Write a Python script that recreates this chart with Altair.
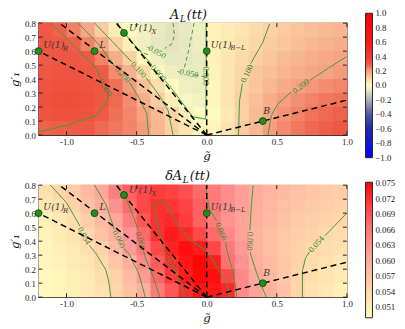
import altair as alt
import pandas as pd

# ---------------- data ----------------
X_EDGES = [-1.2, -1.1, -1.0, -0.9, -0.8, -0.7, -0.6, -0.5, -0.4, -0.3, -0.2, -0.1,
           0.0, 0.1, 0.2, 0.3, 0.4, 0.5, 0.6, 0.7, 0.8, 0.9, 1.0]
Y_EDGES = [0.0, 0.1, 0.2, 0.3, 0.4, 0.5, 0.6, 0.7, 0.8]

# A_L(tt): one row per g'_1 band (bottom to top), one value per g~ band (left to right)
A_ROWS = [
    [0.29, 0.295, 0.30, 0.30, 0.28, 0.26, 0.24, 0.21, 0.16, 0.105, 0.06, 0.02,
     0.02, 0.065, 0.11, 0.155, 0.205, 0.235, 0.26, 0.28, 0.295, 0.31],
    [0.32, 0.33, 0.33, 0.32, 0.30, 0.27, 0.24, 0.20, 0.15, 0.095, 0.04, -0.01,
     0.01, 0.05, 0.10, 0.145, 0.19, 0.22, 0.245, 0.265, 0.28, 0.29],
    [0.33, 0.34, 0.34, 0.33, 0.31, 0.28, 0.23, 0.175, 0.11, 0.04, -0.02, -0.03,
     0.02, 0.06, 0.105, 0.14, 0.175, 0.205, 0.225, 0.245, 0.26, 0.27],
    [0.32, 0.33, 0.33, 0.32, 0.31, 0.27, 0.21, 0.14, 0.075, -0.005, -0.04, -0.045,
     0.02, 0.06, 0.095, 0.125, 0.155, 0.18, 0.198, 0.215, 0.23, 0.24],
    [0.31, 0.32, 0.32, 0.31, 0.298, 0.23, 0.165, 0.085, 0.015, -0.04, -0.05, -0.05,
     0.025, 0.055, 0.09, 0.12, 0.14, 0.16, 0.175, 0.19, 0.20, 0.21],
    [0.30, 0.31, 0.31, 0.30, 0.245, 0.18, 0.105, 0.025, -0.04, -0.06, -0.06, -0.05,
     0.03, 0.055, 0.08, 0.105, 0.125, 0.145, 0.16, 0.175, 0.185, 0.195],
    [0.31, 0.30, 0.295, 0.245, 0.19, 0.105, 0.035, -0.04, -0.06, -0.07, -0.06, -0.045,
     0.03, 0.05, 0.07, 0.09, 0.11, 0.125, 0.14, 0.155, 0.165, 0.175],
    [0.305, 0.29, 0.25, 0.19, 0.115, 0.04, -0.01, -0.035, -0.052, -0.07, -0.055, -0.04,
     0.03, 0.045, 0.06, 0.08, 0.10, 0.115, 0.13, 0.14, 0.15, 0.16],
]

# delta A_L(tt)
DA_ROWS = [
    [0.0495, 0.050, 0.051, 0.052, 0.053, 0.0545, 0.057, 0.0595, 0.0655, 0.069, 0.0722, 0.074,
     0.074, 0.0725, 0.064, 0.061, 0.0593, 0.057, 0.0545, 0.053, 0.052, 0.051],
    [0.0495, 0.050, 0.051, 0.052, 0.0535, 0.055, 0.058, 0.062, 0.0675, 0.0712, 0.0735, 0.075,
     0.0745, 0.070, 0.064, 0.0603, 0.0585, 0.0563, 0.0545, 0.0533, 0.0525, 0.0518],
    [0.050, 0.0505, 0.0515, 0.0525, 0.054, 0.0565, 0.0595, 0.064, 0.0685, 0.072, 0.074, 0.0755,
     0.0735, 0.0665, 0.063, 0.0595, 0.058, 0.0565, 0.0548, 0.0537, 0.053, 0.0523],
    [0.050, 0.051, 0.052, 0.0535, 0.055, 0.058, 0.062, 0.066, 0.070, 0.073, 0.0745, 0.0735,
     0.070, 0.0655, 0.062, 0.059, 0.0575, 0.0562, 0.055, 0.054, 0.0535, 0.053],
    [0.0505, 0.0515, 0.0527, 0.0545, 0.057, 0.0595, 0.063, 0.067, 0.072, 0.0735, 0.0725, 0.070,
     0.067, 0.064, 0.061, 0.059, 0.0578, 0.0565, 0.0555, 0.0548, 0.054, 0.0535],
    [0.051, 0.052, 0.0535, 0.0555, 0.058, 0.0605, 0.065, 0.069, 0.072, 0.0725, 0.071, 0.068,
     0.0655, 0.063, 0.061, 0.0595, 0.058, 0.057, 0.056, 0.0553, 0.0548, 0.0543],
    [0.052, 0.053, 0.055, 0.057, 0.0595, 0.063, 0.067, 0.070, 0.072, 0.0715, 0.0705, 0.068,
     0.0655, 0.0635, 0.0615, 0.0598, 0.0585, 0.0575, 0.0567, 0.056, 0.0555, 0.055],
    [0.053, 0.0545, 0.056, 0.058, 0.0605, 0.065, 0.068, 0.070, 0.071, 0.0705, 0.0695, 0.067,
     0.0655, 0.0635, 0.0615, 0.0598, 0.0588, 0.058, 0.0572, 0.0565, 0.056, 0.0555],
]

X_TICKS = [-1.0, -0.5, 0.0, 0.5, 1.0]
Y_TICKS = [0.0, 0.1, 0.2, 0.3, 0.4, 0.5, 0.6, 0.7, 0.8]
TOP_BAR_TICKS = [-1.0, -0.8, -0.6, -0.4, -0.2, 0.0, 0.2, 0.4, 0.6, 0.8, 1.0]
BOT_BAR_TICKS = [0.051, 0.054, 0.057, 0.060, 0.063, 0.066, 0.069, 0.072, 0.075]

# symmetry points
POINT_KEY = ["R", "L", "X", "BL", "B"]
POINT_X = [-1.2, -0.8, -0.59, 0.0, 0.4]
POINT_Y = [0.6, 0.6, 0.73, 0.6, 0.1]
POINT_MAIN = ["U(1)", "L", "U\u2032(1)", "U(1)", "B"]
POINT_SUB = ["R", "", "X", "B\u2212L", ""]

# dashed rays from the origin through each point to the frame
RAY_END_X = [-1.2, -1.05, -0.645, 0.0, 1.0]
RAY_END_Y = [0.6, 0.8, 0.8, 0.8, 0.25]

# contour pieces: (piece id, dashed, x list, y list)
TOP_CONTOURS = [
    ("t30a", False, [-1.198, -0.999, -0.789, -0.707, -0.70], [0.023, 0.070, 0.140, 0.246, 0.28]),
    ("t30b", False, [-0.752, -0.789, -0.883, -0.999, -1.116], [0.40, 0.479, 0.573, 0.690, 0.802]),
    ("t20a", False, [-0.918, -0.766, -0.654], [0.802, 0.643, 0.49]),
    ("t20b", False, [-0.55, -0.485, -0.427, -0.415], [0.376, 0.269, 0.152, 0.0]),
    ("t10a", False, [-0.801, -0.672, -0.537], [0.802, 0.667, 0.525]),
    ("t10b", False, [-0.433, -0.345, -0.275, -0.240], [0.411, 0.293, 0.175, 0.0]),
    ("t00a", False, [-0.637, -0.590, -0.39], [0.802, 0.732, 0.50]),
    ("t00b", False, [-0.296, -0.252, -0.100, -0.007, -0.004], [0.388, 0.335, 0.131, 0.114, 0.36]),
    ("t00c", False, [-0.004, -0.004], [0.49, 0.80]),
    ("t10r", False, [0.449, 0.402, 0.315], [0.795, 0.667, 0.511]),
    ("t10s", False, [0.255, 0.234, 0.227], [0.369, 0.246, 0.0]),
    ("t20r", False, [0.998, 0.869, 0.736], [0.561, 0.479, 0.391]),
    ("t20s", False, [0.604, 0.507, 0.461, 0.437], [0.309, 0.222, 0.140, 0.0]),
    ("m1a", True, [-0.24, -0.23, -0.25, -0.30], [0.80, 0.71, 0.65, 0.62]),
    ("m1b", True, [-0.42, -0.46, -0.50], [0.575, 0.59, 0.63]),
    ("m2a", True, [-0.09, -0.11, -0.13, -0.15, -0.16], [0.80, 0.70, 0.60, 0.52, 0.48]),
    ("m2b", True, [-0.085, -0.04, 0.0], [0.43, 0.42, 0.415]),
]
TOP_CLABELS = [
    ("0.300", -0.722, 0.34, 57), ("0.200", -0.598, 0.433, 48), ("0.100", -0.485, 0.468, 48),
    ("0.000", -0.343, 0.444, 50), ("-0.050", -0.36, 0.60, 30), ("-0.050", -0.135, 0.445, 12),
    ("0.000", -0.004, 0.423, 90), ("0.100", 0.285, 0.44, 295), ("0.200", 0.67, 0.35, 323),
]

BOT_CONTOURS = [
    ("b54a", False, [-1.116, -0.999, -0.905], [0.802, 0.674, 0.509]),
    ("b54b", False, [-0.837, -0.789, -0.719, -0.696, -0.684], [0.371, 0.311, 0.194, 0.100, 0.0]),
    ("b60a", False, [-0.801, -0.719, -0.659], [0.802, 0.662, 0.485]),
    ("b60b", False, [-0.591, -0.555, -0.485, -0.438], [0.347, 0.311, 0.171, 0.0]),
    ("b66a", False, [-0.637, -0.567, -0.520, -0.489], [0.802, 0.686, 0.568, 0.48]),
    ("b66b", False, [-0.451, -0.438, -0.380, -0.334], [0.33, 0.283, 0.142, 0.0]),
    ("b72a", False, [-0.158, -0.205, -0.221], [0.0, 0.142, 0.171]),
    ("b72b", False, [-0.289, -0.310, -0.345, -0.380, -0.310, -0.205, -0.112, 0.005, 0.075, 0.145, 0.168],
     [0.309, 0.353, 0.493, 0.658, 0.693, 0.517, 0.400, 0.330, 0.213, 0.096, 0.0]),
    ("b66r", False, [-0.007, 0.017, 0.07], [0.80, 0.634, 0.545]),
    ("b66s", False, [0.135, 0.145, 0.192, 0.215], [0.395, 0.330, 0.166, 0.0]),
    ("b60r", False, [0.332, 0.320, 0.310, 0.308], [0.80, 0.681, 0.517, 0.477]),
    ("b60s", False, [0.310, 0.320, 0.367, 0.425], [0.323, 0.283, 0.142, 0.0]),
    ("b54r", False, [0.998, 0.845], [0.599, 0.44]),
    ("b54s", False, [0.735, 0.706, 0.683, 0.683], [0.325, 0.283, 0.189, 0.0]),
]
BOT_CLABELS = [
    ("0.054", -0.871, 0.44, 62), ("0.060", -0.625, 0.416, 63), ("0.066", -0.47, 0.405, 75),
    ("0.072", -0.255, 0.24, 63), ("0.066", 0.105, 0.47, 68), ("0.060", 0.31, 0.40, 93),
    ("0.054", 0.78, 0.38, 312),
]

# colour maps
TOP_STOPS = [-1.0001, -0.8, -0.6, -0.4, -0.2, 0.0, 0.1, 0.2, 0.3, 0.4, 0.6, 1.0001]
TOP_COLORS = ["#0000ff", "#0d17d9", "#1f2aa6", "#4d58a3", "#aeb0bd", "#ffffc2",
              "#fbd2a4", "#f5a283", "#ee5a46", "#f13c30", "#fb1a16", "#ff0000"]
BOT_STOPS = [0.0489, 0.051, 0.054, 0.057, 0.060, 0.063, 0.066, 0.069, 0.072, 0.07525]
BOT_COLORS = ["#fffcc2", "#fff0b6", "#ffd9ac", "#ffc3a4", "#ffab9c", "#ff9292",
              "#ff7676", "#ff5656", "#ff3030", "#ff0505"]

# ---------------- styling ----------------
W, H = 314, 114
SERIF = "Liberation Serif"
MATH = "DejaVu Serif"
GREEN = "#3c9c3c"
GREEN_TXT = "#2e8a2e"
LABEL_COL = "#3b3535"
XS = alt.Scale(domain=[-1.2, 1.0], nice=False, zero=False)
YS = alt.Scale(domain=[0.0, 0.8], nice=False, zero=False)
XAX = alt.Axis(values=X_TICKS, labelExpr="replace(format(datum.value, '.1f'), '\u2212', '-')",
               title="g\u0303", titleX=171, titlePadding=4, labelPadding=3, tickSize=0,
               labelFlush=False, labelOverlap=False)
YAX = alt.Axis(values=Y_TICKS, format=".1f", title="g\u2032\u2081", titlePadding=3,
               labelPadding=3, tickSize=0, labelFlush=False, labelOverlap=False)

LABEL_STYLE = {
    "R": dict(dx=5, dy=-3, sdx=25, sdy=-0.5),
    "L": dict(dx=5, dy=-3.5, sdx=0, sdy=0),
    "X": dict(dx=5, dy=-2, sdx=28, sdy=1),
    "BL": dict(dx=4, dy=-3.5, sdx=24, sdy=-1),
    "B": dict(dx=0.5, dy=-7.5, sdx=0, sdy=0),
}


def heat_frame(rows):
    recs = []
    for j, row in enumerate(rows):
        for i, v in enumerate(row):
            recs.append(dict(x=X_EDGES[i], x1=X_EDGES[i + 1], y=Y_EDGES[j], y1=Y_EDGES[j + 1], v=v))
    return pd.DataFrame(recs)


def contour_frame(pieces):
    recs = []
    for pid, dashed, xs, ys in pieces:
        for k, (x, y) in enumerate(zip(xs, ys)):
            recs.append(dict(piece=pid, dashed=dashed, k=k, x=x, y=y))
    return pd.DataFrame(recs)


def rays_frame():
    recs = []
    for key, ex, ey in zip(POINT_KEY, RAY_END_X, RAY_END_Y):
        recs.append(dict(ray=key, k=0, x=0.0, y=0.0))
        recs.append(dict(ray=key, k=1, x=ex, y=ey))
    return pd.DataFrame(recs)


def px():
    return alt.X("x", type="quantitative", scale=XS, axis=XAX)


def py():
    return alt.Y("y", type="quantitative", scale=YS, axis=YAX)


def panel(rows, stops, colors, legend, pieces, clabels, title_parts):
    cscale = alt.Scale(domain=stops, range=colors, clamp=True, interpolate="rgb")
    heat = alt.Chart(heat_frame(rows)).mark_rect(x2Offset=0.7, y2Offset=-0.7).encode(
        x=px(), x2="x1:Q", y=py(), y2="y1:Q",
        color=alt.Color("v:Q", scale=cscale, legend=legend),
    )
    cdf = contour_frame(pieces)
    solid = alt.Chart(cdf[~cdf["dashed"]]).mark_line(color=GREEN, strokeWidth=1).encode(
        x=px(), y=py(), detail="piece:N", order="k:Q")
    layers = [heat, solid]
    if cdf["dashed"].any():
        dashed = alt.Chart(cdf[cdf["dashed"]]).mark_line(
            color=GREEN, strokeWidth=1, strokeDash=[4, 3]).encode(
            x=px(), y=py(), detail="piece:N", order="k:Q")
        layers.append(dashed)
    ldf = pd.DataFrame(clabels, columns=["t", "x", "y", "a"])
    clab = alt.Chart(ldf).mark_text(font=SERIF, fontSize=8.5, color=GREEN_TXT).encode(
        x=px(), y=py(), text="t:N", angle=alt.Angle("a:Q", scale=None))
    rays = alt.Chart(rays_frame()).mark_line(
        color="black", strokeWidth=1.5, strokeDash=[6, 4]).encode(
        x=px(), y=py(), detail="ray:N", order="k:Q")
    layers += [clab, rays]
    # inward ticks on all four sides
    xt = pd.DataFrame({"x": X_TICKS})
    yt = pd.DataFrame({"y": Y_TICKS})
    for y0, y1 in ((0, 4), (H, H - 4)):
        layers.append(alt.Chart(xt).mark_rule(color="#222", strokeWidth=1).encode(
            x=px(), y=alt.value(y0), y2=alt.value(y1)))
    for x0, x1 in ((0, 4), (W, W - 4)):
        layers.append(alt.Chart(yt).mark_rule(color="#222", strokeWidth=1).encode(
            y=py(), x=alt.value(x0), x2=alt.value(x1)))
    pdf = pd.DataFrame({"key": POINT_KEY, "x": POINT_X, "y": POINT_Y,
                        "main": POINT_MAIN, "sub": POINT_SUB})
    layers.append(alt.Chart(pdf).mark_point(
        filled=True, size=50, color="#1d8f1d", stroke="#0c420c", strokeWidth=0.8,
        opacity=1).encode(x=px(), y=py()))
    for i, key in enumerate(POINT_KEY):
        st = LABEL_STYLE[key]
        one = pdf.iloc[[i]]
        layers.append(alt.Chart(one).mark_text(
            font=MATH, fontStyle="italic", fontSize=9.5, color=LABEL_COL, align="left",
            baseline="alphabetic", dx=st["dx"], dy=st["dy"]).encode(
            x=px(), y=py(), text="main:N"))
        if POINT_SUB[i]:
            layers.append(alt.Chart(one).mark_text(
                font=MATH, fontStyle="italic", fontSize=7, color=LABEL_COL, align="left",
                baseline="alphabetic", dx=st["sdx"], dy=st["sdy"]).encode(
                x=px(), y=py(), text="sub:N"))
    for txt, xv, yv, fs in title_parts:
        layers.append(alt.Chart(pd.DataFrame({"t": [txt]})).mark_text(
            font=MATH, fontStyle="italic", fontSize=fs, color="#111", align="left",
            baseline="alphabetic").encode(x=alt.value(xv), y=alt.value(yv), text="t:N"))
    return alt.layer(*layers).properties(width=W, height=H)


top_legend = alt.Legend(
    type="gradient", title=None, orient="none", legendX=333, legendY=-10, direction="vertical",
    gradientLength=147, gradientThickness=7, values=TOP_BAR_TICKS, format=".1f",
    labelFont=SERIF, labelFontSize=9, labelOffset=3, labelColor="#222",
    gradientStrokeColor="#222", gradientStrokeWidth=1, labelOverlap=False, padding=0)
bot_legend = alt.Legend(
    type="gradient", title=None, orient="none", legendX=333, legendY=-3, direction="vertical",
    gradientLength=138, gradientThickness=7, values=BOT_BAR_TICKS, format=".3f",
    labelFont=SERIF, labelFontSize=9, labelOffset=3, labelColor="#222",
    gradientStrokeColor="#222", gradientStrokeWidth=1, labelOverlap=False, padding=0)

top = panel(A_ROWS, TOP_STOPS, TOP_COLORS, top_legend, TOP_CONTOURS, TOP_CLABELS,
            [("A", 134, -4.5, 13), ("L", 144, -1.5, 9), ("(tt)", 151, -4.5, 13)])
bottom = panel(DA_ROWS, BOT_STOPS, BOT_COLORS, bot_legend, BOT_CONTOURS, BOT_CLABELS,
               [("\u03b4A", 129, -5.5, 13), ("L", 147, -2.5, 9), ("(tt)", 154, -5.5, 13)])

chart = alt.vconcat(top, bottom, spacing=51, bounds="flush").resolve_scale(
    color="independent"
).properties(padding={"top": -3.5, "left": 0, "right": 0, "bottom": 0}).configure_view(
    stroke="#333", strokeWidth=1.2
).configure_axis(
    labelFont=SERIF, labelFontSize=9, labelColor="#222", ticks=False, domain=False,
    grid=False, titleFont=MATH, titleFontSize=12, titleFontStyle="italic",
    titleFontWeight="normal", titleColor="#111"
)

chart.save("out.html", embed_options={"renderer": "svg", "actions": False})
